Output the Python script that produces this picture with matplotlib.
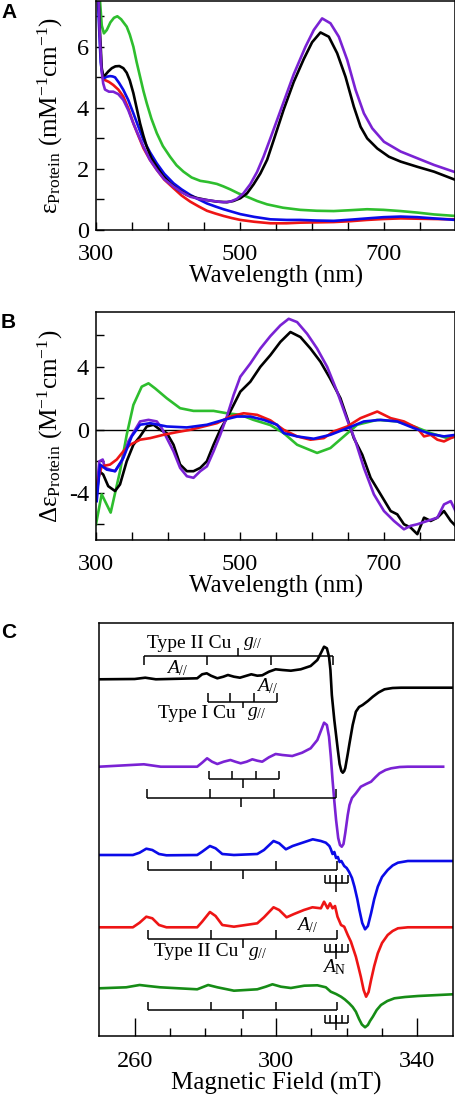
import matplotlib
matplotlib.use("Agg")
import matplotlib.pyplot as plt

plt.rcParams['font.family'] = ['Liberation Serif', 'DejaVu Serif']
plt.rcParams['mathtext.fontset'] = 'custom'
plt.rcParams['mathtext.rm'] = 'Liberation Serif'
plt.rcParams['mathtext.it'] = 'Liberation Serif:italic'
plt.rcParams['mathtext.bf'] = 'Liberation Serif:bold'

# ---------------- colours ----------------
C_BLACK = '#000000'
C_PURPLE = '#7A22D4'
C_BLUE = '#0B0BE8'
C_RED = '#EE1515'
C_GREEN = '#2EBE2E'
C_GREEN_EPR = '#168C16'

# ---------------- Panel A : absorption (mM^-1 cm^-1) ----------------
a_black_wl = [303, 305.5, 308, 310, 313, 317, 322, 327, 332.5, 338, 342.7, 347, 352, 356.5, 361.3, 366,
              370.6, 377, 384.6, 393, 403, 414, 426.4, 440, 454.3, 468, 482, 491, 500.7, 510, 519.3,
              528.6, 538, 547.2, 561.1, 575, 589, 600.6, 612.2, 623.8, 635.4, 647, 658.6, 668, 677.2,
              691.2, 707.4, 723.7, 746.9, 770.2, 800]
a_black = [8.0, 6.5, 5.3, 5.05, 5.08, 5.19, 5.3, 5.36, 5.37, 5.3, 5.15, 4.9, 4.48, 4.0, 3.49, 3.08,
           2.73, 2.35, 2.07, 1.78, 1.53, 1.32, 1.15, 1.05, 0.98, 0.93, 0.91, 0.95, 1.04, 1.2, 1.5,
           1.85, 2.3, 2.95, 3.95, 4.85, 5.6, 6.15, 6.47, 6.33, 5.79, 5.02, 4.04, 3.38, 3.0,
           2.67, 2.4, 2.24, 2.07, 1.91, 1.64]

a_purple_wl = [303, 305, 307.5, 310, 312.5, 318, 324, 331, 338, 345, 352, 359, 366, 375, 384.6, 395,
               407.8, 419, 431, 443, 454.3, 466, 477.4, 487, 496, 505, 514.6, 524, 533, 542.5, 551.8,
               561.1, 575, 591.3, 602.9, 614.5, 626.1, 637.7, 649.4, 661, 672.6, 684.2, 700.5, 723.7,
               746.9, 770.2, 800]
a_purple = [8.0, 6.5, 5.3, 4.8, 4.6, 4.53, 4.53, 4.45, 4.26, 3.92, 3.49, 3.1, 2.73, 2.3, 1.97, 1.66,
            1.42, 1.24, 1.09, 1.02, 0.98, 0.94, 0.91, 0.93, 1.02, 1.2, 1.5, 1.9, 2.4, 3.0, 3.6,
            4.2, 5.1, 6.0, 6.55, 6.93, 6.77, 6.33, 5.57, 4.59, 3.82, 3.33, 2.89, 2.57,
            2.35, 2.13, 1.89]

a_blue_wl = [302, 304, 306.5, 309, 311, 315, 319.5, 323, 326.5, 332, 338, 345, 352, 359, 366, 375,
             384.6, 395, 407.8, 419, 431, 443, 454.3, 466, 477.4, 489, 500.7, 520, 542.5, 565, 584,
             607, 630.7, 655, 677, 700, 723.7, 747, 770, 800]
a_blue = [8.0, 6.8, 5.5, 5.05, 4.97, 5.02, 5.04, 5.03, 5.0, 4.82, 4.59, 4.25, 3.82, 3.38, 2.95, 2.55,
          2.18, 1.84, 1.53, 1.33, 1.15, 1.0, 0.87, 0.77, 0.68, 0.6, 0.52, 0.43, 0.35, 0.33, 0.33,
          0.31, 0.30, 0.34, 0.38, 0.42, 0.44, 0.42, 0.38, 0.33]

a_red_wl = [310, 312.5, 318, 324, 331, 338, 345, 352, 359, 366, 375, 384.6, 395, 407.8, 419, 431, 443,
            454.3, 466, 477.4, 489, 500.7, 520, 542.5, 565, 584, 607, 630.7, 655, 677, 700, 723.7,
            747, 770, 800]
a_red = [4.97, 4.91, 4.85, 4.75, 4.6, 4.37, 3.98, 3.49, 3.08, 2.68, 2.3, 1.97, 1.65, 1.37, 1.13, 0.93, 0.77,
         0.63, 0.54, 0.46, 0.39, 0.33, 0.27, 0.22, 0.22, 0.24, 0.25, 0.26, 0.29, 0.33, 0.36, 0.38,
         0.37, 0.36, 0.35]

a_green_wl = [303, 305.6, 308, 311, 315, 320, 325, 329.7, 335, 342.7, 347, 352, 356.5, 361.3, 366, 370.6,
              377, 384.6, 393, 403, 412, 421.7, 433, 445, 456, 468, 477, 486.8, 498, 510, 524, 538,
              560, 584, 607, 630.7, 655, 677, 700, 723.7, 747, 770, 800]
a_green = [8.0, 7.5, 6.7, 6.44, 6.55, 6.8, 6.95, 7.0, 6.9, 6.66, 6.4, 6.0, 5.5, 5.02, 4.55, 4.15,
           3.65, 3.17, 2.75, 2.4, 2.12, 1.91, 1.72, 1.61, 1.57, 1.51, 1.43, 1.33, 1.2, 1.09, 0.95, 0.84,
           0.73, 0.66, 0.63, 0.62, 0.65, 0.68, 0.66, 0.62, 0.57, 0.51, 0.46]

# ---------------- Panel B : CD (M^-1 cm^-1) ----------------
b_black_wl = [300, 304.6, 310, 317, 326.5, 333.4, 342.7, 352, 361.3, 370.6, 380, 389.2, 398.5, 407.8, 417,
              426.4, 435.6, 445, 454.2, 463.5, 472.8, 482, 491.4, 500.7, 514.6, 528.6, 542.5, 556.4, 570.4,
              584.3, 598.3, 612.2, 625.6, 640, 649.4, 658.6, 670.3, 676, 681.9, 695.8, 709.8, 719, 728.3,
              737.6, 746.9, 756.2, 765.5, 774.8, 784, 793.4, 800]
b_black = [-4.5, -2.63, -2.84, -3.58, -3.89, -3.47, -2.0, -0.95, -0.42, 0.21, 0.32, 0.0, -0.21, -0.95, -2.21,
           -2.63, -2.63, -2.42, -2.0, -0.95, 0.0, 0.74, 1.58, 2.42, 3.05, 4.0, 4.74, 5.58, 6.21,
           5.89, 5.16, 4.32, 3.26, 2.0, 0.74, -0.53, -1.58, -2.3, -3.05, -4.1, -5.16, -5.37, -6.0,
           -6.21, -6.63, -5.58, -5.79, -5.58, -5.16, -5.79, -6.1]

b_purple_wl = [300, 304.6, 309.3, 312.5, 319.5, 326.5, 335.8, 345, 354.4, 361.3, 373, 384.6, 391.5, 398.5,
               407.8, 417, 426.4, 435.6, 445, 454.3, 463.5, 472.8, 482, 491.4, 500.7, 514.6, 528.6, 542.5,
               556.4, 568, 579.7, 593.6, 607.5, 621.5, 635.4, 649.4, 661, 672.6, 686.5, 700.5, 714.4,
               728.3, 737.6, 746.9, 760.8, 774.8, 784, 793.4, 800]
b_purple = [-4.3, -2.0, -1.89, -2.42, -2.53, -2.63, -2.0, -0.74, 0.0, 0.53, 0.63, 0.53, 0.1, -0.53,
            -1.37, -2.42, -2.95, -3.05, -2.63, -2.32, -1.37, -0.32, 0.84, 2.21, 3.37, 4.21, 5.16, 5.95,
            6.63, 7.05, 6.84, 6.1, 5.16, 4.0, 2.42, 0.63, -0.74, -2.42, -4.1, -5.16, -5.79,
            -6.32, -6.1, -6.0, -5.79, -5.58, -4.74, -4.53, -5.16]

b_red_wl = [301, 307.9, 319.5, 328.8, 338, 347.4, 361.3, 375.3, 393.8, 412.4, 431, 449.6, 468.2, 486.8,
            505.3, 524, 542.5, 561, 579.7, 598.3, 616.8, 630.8, 649.4, 667.9, 691.2, 709.8, 728.3, 746.9,
            756.2, 765.5, 774.8, 784, 793.4, 800]
b_red = [-3.47, -2.32, -2.21, -1.89, -1.37, -0.95, -0.63, -0.53, -0.32, -0.15, 0.0, 0.21, 0.42, 0.84,
         1.05, 0.95, 0.6, 0.0, -0.42, -0.63, -0.53, -0.1, 0.21, 0.74, 1.16, 0.74, 0.53, 0.1,
         -0.42, -0.32, -0.63, -0.74, -0.53, -0.42]

b_blue_wl = [301, 305.6, 314.9, 326.5, 338, 349.7, 361.3, 375.3, 398.5, 426.4, 454.3, 477.5, 496, 514.6,
             533.2, 551.8, 561, 579.7, 602.9, 626, 649.4, 672.6, 695.8, 719, 742.3, 765.5, 784, 800]
b_blue = [-4.53, -2.21, -2.53, -2.63, -1.79, -0.42, 0.32, 0.42, 0.21, 0.15, 0.32, 0.63, 0.84, 0.84,
          0.63, 0.32, -0.21, -0.42, -0.57, -0.32, 0.1, 0.53, 0.63, 0.53, 0.1, -0.27, -0.42, -0.32]

b_green_wl = [300, 307.9, 320.4, 333.4, 342.7, 352, 363.6, 373, 382.2, 398.5, 417, 435.6, 463.5, 482,
              500.7, 519, 542.5, 561, 579.7, 607.5, 626, 644.7, 663.3, 691, 719, 742.3, 765.5, 788.7, 800]
b_green = [-6.0, -4.1, -5.26, -2.63, -0.32, 1.58, 2.74, 2.95, 2.63, 2.0, 1.37, 1.2, 1.2, 1.05,
           0.95, 0.63, 0.3, -0.21, -0.95, -1.47, -1.16, -0.42, 0.32, 0.63, 0.53, 0.21, -0.21, -0.53, -0.42]

# ---------------- Panel C : EPR derivative spectra (a.u., stacked) ----------------
c_black_B = [250, 260, 263, 266, 277.7, 279.1, 280.4, 281.6, 283.4, 285.1, 286.4, 288.1, 289.8, 291.4, 293.0,
             294.7, 296.1, 298.0, 299.9, 301.8, 304.2, 307.0, 309.8, 311.7, 312.9, 313.6, 314.4, 315.0,
             315.4, 315.8, 316.5, 317.5, 318.0, 318.5, 318.9, 319.3, 319.6, 320.3, 320.8, 321.7, 322.6,
             323.5, 324.5, 326.0, 327.4, 329.0, 330.7, 333.0, 335.4, 350]
c_black = [356.7, 357, 358.3, 356.7, 357.7, 361.7, 362.7, 360.3, 357.7, 359.3, 361, 359.3, 358.3, 360, 361.7,
           360.3, 360.7, 364.3, 366.7, 366, 365.3, 366.7, 370, 376, 384.3, 389.3, 387.7, 379.3,
           366, 341, 316, 286, 272, 265, 263.3, 265, 268, 282, 292.7, 311, 324.3,
           329, 331, 335, 339.3, 343.5, 346.7, 348, 348.3, 348.3]

c_purple_B = [250, 262.6, 267.4, 277.7, 279.1, 280.5, 281.9, 283.4, 285.2, 287.1, 288.5, 290, 291.7, 293.3,
              294.7, 296.1, 298.0, 299.9, 301.8, 304.6, 307.4, 309.8, 311.7, 312.8, 313.6, 314.4, 315.0,
              315.5, 316, 316.5, 317, 317.6, 318.1, 318.6, 319.1, 319.6, 320.3, 320.8, 321.5, 322.6, 324,
              325.5, 326.9, 328.2, 329.3, 331, 332.6, 335, 337.3, 347.3]
c_purple = [269.3, 271.7, 269.3, 269.3, 273.3, 277.7, 274.3, 272, 274.3, 276, 274.3, 272.7, 274.3, 276.7,
            275.3, 274.3, 278.7, 282, 281, 280, 283.3, 287.7, 296, 306, 313.3, 311, 299.3,
            280, 256, 235, 216, 198, 191, 189.3, 192, 203, 221, 231, 238, 242.7, 249.3,
            252, 254.3, 259, 262.7, 266, 267.7, 269, 269.3, 269.3]

c_blue_B = [250, 259.5, 261.4, 263.3, 265, 266.9, 269, 277.7, 279.1, 281.3, 282.9, 284.8, 288.1, 294.7,
            296.6, 299.3, 300.9, 302.8, 304.7, 307.5, 310.4, 312.7, 314.1, 315.1, 315.5, 316.0, 316.5,
            317.0, 317.5, 318.0, 318.5, 319.3, 320.0, 320.7, 321.5, 322.2, 323.0, 323.6, 324.4, 325.2,
            326.0, 326.9, 327.8, 328.8, 330.0, 331.6, 333.0, 334.5, 337.3, 350]
c_blue = [181, 181, 183.3, 187.3, 186, 182, 180.7, 181, 184.3, 190, 187.7, 182, 181, 182,
          186, 195, 192.7, 186.7, 190, 193.3, 196.7, 195, 193.3, 190, 187, 182, 184,
          178, 179, 174, 175, 170, 168, 164, 158, 149.3, 137, 126, 113, 106.7,
          110, 122.7, 137, 149.3, 159, 166, 170.5, 173.3, 175, 175]

c_red_B = [250, 259.5, 261.4, 263.3, 265, 266.9, 269, 277.7, 279.1, 281.3, 282.9, 284.8, 288.1, 294.7,
           296.6, 299.3, 300.9, 303, 305.1, 307.9, 310.3, 312.7, 313.6, 314.1, 314.6, 315.3, 316, 316.7,
           317.4, 318.4, 319.3, 320.3, 321.2, 322.6, 323.4, 324, 324.8, 325.5, 326.2, 326.9, 327.8,
           328.8, 330, 331.6, 333, 334.5, 337.3, 350]
c_red = [108.7, 108.7, 113.3, 119.3, 117.7, 111, 108.7, 108.7, 114.3, 124, 120, 111, 109.3, 112.7,
         118.7, 128.7, 126, 118.7, 122, 126, 128.7, 127.7, 134.3, 131, 127.7, 132.7, 127.7, 130,
         119.3, 111, 109.3, 101, 94.3, 79.3, 68, 59.3, 46, 39.3, 44, 56, 70,
         82.7, 93, 101, 105, 107.7, 108.7, 108.7]

c_green_B = [250, 257.6, 261.4, 263.8, 267.2, 277.7, 280.8, 283.4, 288.1, 294.7, 297.1, 299, 301.4, 304.2,
             308, 311.7, 314.1, 315.5, 317, 318.4, 319.5, 320.7, 321.7, 322.6, 323.5, 324.3, 325.2, 326,
             326.6, 327.4, 328.5, 329.7, 331.5, 333.5, 336.5, 340.2, 350]
c_green = [47.7, 48.7, 51, 50, 48.7, 46.7, 51, 48.7, 45.3, 46.7, 49.3, 51.7, 49.3, 48,
           50.3, 50.7, 48.7, 44.3, 42, 39.3, 36.5, 32.7, 29, 24.3, 17, 11.5, 8.7, 11,
           15, 19.3, 26, 31, 35, 37.7, 39, 40, 41.7]

# hyperfine stick positions (mT)
typeII_black = [262.7, 280.5, 298.5, 316.2]
typeII_black_g = 289.2
typeI_black = [280.7, 287.1, 293.9, 300.4]
typeI_black_g = 290.6
typeI_purple = [281.0, 287.6, 294.3, 300.9]
typeI_purple_g = 290.7
typeII_purple = [263.5, 281.4, 299.4, 317.0]
typeII_purple_g = 290.2
typeII_other = [263.9, 281.7, 299.9, 317.4]
typeII_other_g = 290.6
nitrogen_comb = [313.8, 315.4, 317.0, 318.7, 320.3]

# ---------------- figure ----------------
W, H = 456, 1100
fig = plt.figure(figsize=(W / 100, H / 100), dpi=100)

def rect(l, t, r, b):
    return [l / W, 1 - b / H, (r - l) / W, (b - t) / H]

LW = 1.9
TICKFS = 17.5
LABFS = 18

axA = fig.add_axes(rect(96, 1, 455.5, 230))
axB = fig.add_axes(rect(96, 311.7, 455.5, 540))
axC = fig.add_axes(rect(99.3, 623.3, 452.7, 1036))

for ax in (axA, axB, axC):
    for s in ax.spines.values():
        s.set_linewidth(1.1)
    ax.tick_params(direction='in', length=6, width=1.0, labelsize=TICKFS)
    ax.tick_params(which='minor', direction='in', length=6, width=1.0)
    ax.tick_params(axis='x', pad=10)
    ax.tick_params(axis='y', pad=5)

# Panel A
axA.plot(a_green_wl, a_green, color=C_GREEN, lw=LW)
axA.plot(a_red_wl, a_red, color=C_RED, lw=LW)
axA.plot(a_blue_wl, a_blue, color=C_BLUE, lw=LW)
axA.plot(a_black_wl, a_black, color=C_BLACK, lw=LW)
axA.plot(a_purple_wl, a_purple, color=C_PURPLE, lw=LW)
axA.set_xlim(300, 800)
axA.set_ylim(0, 7.5)
axA.set_xticks([300, 500, 700])
axA.set_xticks([350, 400, 450, 550, 600, 650, 750], minor=True)
axA.set_yticks([0, 2, 4, 6])
axA.set_yticks([1, 3, 5, 7], minor=True)
axA.set_xlabel('Wavelength (nm)', fontsize=LABFS, va='top')
axA.xaxis.set_label_coords(0.5, -35 / 229)
axA.set_ylabel(r'ε$_{\mathrm{Protein}}$ (mM$^{\mathrm{-1}}$cm$^{\mathrm{-1}}$)', fontsize=LABFS)
axA.yaxis.set_label_coords(-0.085, 0.5)

# Panel B
axB.axhline(0, color='k', lw=1.0)
axB.plot(b_green_wl, b_green, color=C_GREEN, lw=LW)
axB.plot(b_black_wl, b_black, color=C_BLACK, lw=LW)
axB.plot(b_purple_wl, b_purple, color=C_PURPLE, lw=LW)
axB.plot(b_red_wl, b_red, color=C_RED, lw=LW)
axB.plot(b_blue_wl, b_blue, color=C_BLUE, lw=LW)
axB.set_xlim(300, 800)
axB.set_ylim(-7, 7.5)
axB.set_xticks([300, 500, 700])
axB.set_xticks([350, 400, 450, 550, 600, 650, 750], minor=True)
axB.set_yticks([-4, 0, 4])
axB.set_yticklabels(['-4', '0', '4'])
axB.set_yticks([-6, -2, 2, 6], minor=True)
axB.set_xlabel('Wavelength (nm)', fontsize=LABFS, va='top')
axB.xaxis.set_label_coords(0.5, -35 / 228.3)
axB.set_ylabel(r'Δε$_{\mathrm{Protein}}$ (M$^{\mathrm{-1}}$cm$^{\mathrm{-1}}$)', fontsize=LABFS)
axB.yaxis.set_label_coords(-0.085, 0.5)

# Panel C
axC.plot(c_black_B, c_black, color=C_BLACK, lw=LW)
axC.plot(c_purple_B, c_purple, color=C_PURPLE, lw=LW)
axC.plot(c_blue_B, c_blue, color=C_BLUE, lw=LW)
axC.plot(c_red_B, c_red, color=C_RED, lw=LW)
axC.plot(c_green_B, c_green, color=C_GREEN_EPR, lw=LW)
axC.set_xlim(250, 350)
axC.set_ylim(0, 412.7)
axC.set_yticks([])
axC.set_xticks([260, 300, 340])
axC.set_xticks([270, 280, 290, 310, 320, 330], minor=True)
axC.tick_params(which='major', length=13, pad=11)
axC.tick_params(which='minor', length=6)
axC.set_xlabel('Magnetic Field (mT)', fontsize=LABFS, va='top')
axC.xaxis.set_label_coords(0.5, -36 / 412.7)

SLW = 1.1

def stick(ax, fields, gpos, y, tick, gtick):
    ax.hlines(y, fields[0], fields[-1], color='k', lw=SLW)
    ax.vlines(fields, y, y + tick, color='k', lw=SLW)
    ax.vlines(gpos, y, y + gtick, color='k', lw=SLW)

def comb(ax, fields, y, tick, down):
    ax.hlines(y, fields[0], fields[-1], color='k', lw=SLW)
    ax.vlines(fields, y, y + tick, color='k', lw=SLW)
    mid = fields[len(fields) // 2]
    ax.vlines(mid, y - down, y + tick, color='k', lw=SLW)

stick(axC, typeII_black, typeII_black_g, 380, -9, 7.7)
stick(axC, typeI_black, typeI_black_g, 334.3, 8.4, -6.6)
stick(axC, typeI_purple, typeI_purple_g, 257, 8.3, -9.3)
stick(axC, typeII_purple, typeII_purple_g, 237.7, 9, -9)
stick(axC, typeII_other, typeII_other_g, 166, 9, -9.3)
comb(axC, nitrogen_comb, 153.3, 7.7, 9)
stick(axC, typeII_other, typeII_other_g, 97.3, 8.7, -9.6)
comb(axC, nitrogen_comb, 84.3, 7.7, 7.6)
stick(axC, typeII_other, typeII_other_g, 26, 8.3, -9.3)
comb(axC, nitrogen_comb, 12.7, 8.3, 6.7)

TFS = 14
axC.text(275.4, 392.7, 'Type II Cu', fontsize=TFS, ha='center', va='center')
axC.text(293.5, 393, r'$g_{//}$', fontsize=TFS, ha='center', va='center')
axC.text(272.2, 367.7, r'$A_{//}$', fontsize=TFS, ha='center', va='center')
axC.text(297.6, 350, r'$A_{//}$', fontsize=TFS, ha='center', va='center')
axC.text(277.7, 322.7, 'Type I Cu', fontsize=TFS, ha='center', va='center')
axC.text(294.4, 323, r'$g_{//}$', fontsize=TFS, ha='center', va='center')
axC.text(308.9, 111, r'$A_{//}$', fontsize=TFS, ha='center', va='center')
axC.text(277.4, 84.3, 'Type II Cu', fontsize=TFS, ha='center', va='center')
axC.text(294.7, 83, r'$g_{//}$', fontsize=TFS, ha='center', va='center')
axC.text(316.6, 69.3, r'$A_{\mathrm{N}}$', fontsize=TFS, ha='center', va='center')

# panel letters
for letter, ytop in (('A', 3), ('B', 313), ('C', 623)):
    fig.text(1 / W, 1 - ytop / H, letter, fontsize=15, fontweight='bold',
             family=['Liberation Sans', 'DejaVu Sans'], ha='left', va='top')

fig.savefig('out.png', dpi=100)
